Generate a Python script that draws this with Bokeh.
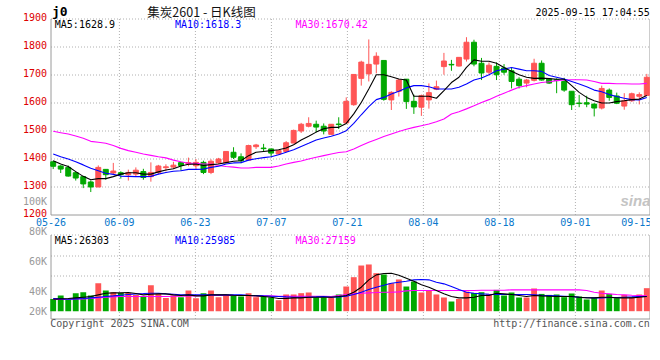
from bokeh.plotting import figure
from bokeh.models import Range1d, ColumnDataSource
from bokeh.core.properties import value
from bokeh.embed import file_html
from bokeh.resources import INLINE

# ---------------- data ----------------
dates = ["05-26", "06-09", "06-23", "07-07", "07-21", "08-04", "08-18", "09-01", "09-15"]
date_idx = [0, 9, 19, 29, 39, 49, 59, 69, 79]
price_ticks = [1900, 1800, 1700, 1600, 1500, 1400, 1300, 1200]
vol_tick_labels = ["100K", "80K", "60K", "40K", "20K"]

opens = [1390, 1375, 1370, 1351, 1337, 1318, 1300, 1363, 1350, 1351,
         1344, 1346, 1355, 1337, 1352, 1369, 1371, 1387, 1382, 1376,
         1388, 1352, 1386, 1387, 1424, 1408, 1396, 1444, 1439, 1436,
         1418, 1427, 1457, 1500, 1517, 1524, 1517, 1488, 1525, 1529,
         1594, 1688, 1704, 1739, 1752, 1611, 1642, 1685, 1606, 1585,
         1611, 1649, 1730, 1738, 1732, 1757, 1817, 1742, 1710, 1731,
         1725, 1715, 1685, 1671, 1681, 1742, 1686, 1683, 1677, 1642,
         1600, 1601, 1596, 1582, 1646, 1625, 1589, 1608, 1624, 1627]
highs = [1394, 1378, 1377, 1355, 1339, 1323, 1377, 1363, 1386, 1356,
         1362, 1370, 1365, 1388, 1379, 1381, 1390, 1390, 1405, 1400,
         1394, 1399, 1404, 1427, 1442, 1420, 1451, 1454, 1454, 1436,
         1432, 1464, 1505, 1529, 1549, 1537, 1527, 1525, 1549, 1620,
         1702, 1751, 1827, 1781, 1752, 1642, 1686, 1685, 1630, 1630,
         1670, 1680, 1779, 1754, 1763, 1835, 1826, 1761, 1745, 1745,
         1739, 1725, 1692, 1686, 1758, 1752, 1686, 1688, 1690, 1642,
         1629, 1626, 1599, 1662, 1652, 1637, 1635, 1637, 1638, 1704]
lows = [1364, 1350, 1337, 1323, 1296, 1282, 1300, 1326, 1346, 1330,
        1323, 1338, 1326, 1319, 1345, 1356, 1364, 1358, 1374, 1363,
        1346, 1346, 1382, 1386, 1400, 1385, 1394, 1436, 1426, 1408,
        1415, 1424, 1456, 1493, 1513, 1495, 1488, 1487, 1507, 1525,
        1590, 1662, 1677, 1706, 1608, 1575, 1623, 1579, 1561, 1554,
        1580, 1646, 1701, 1715, 1730, 1748, 1731, 1682, 1701, 1682,
        1701, 1652, 1652, 1656, 1677, 1680, 1668, 1635, 1640, 1575,
        1585, 1585, 1552, 1577, 1608, 1596, 1576, 1604, 1595, 1625]
closes = [1374, 1364, 1339, 1332, 1311, 1300, 1370, 1344, 1357, 1345,
          1352, 1360, 1334, 1352, 1375, 1372, 1378, 1377, 1387, 1388,
          1352, 1392, 1400, 1427, 1406, 1394, 1448, 1450, 1437, 1421,
          1430, 1458, 1502, 1524, 1527, 1514, 1500, 1524, 1523, 1606,
          1702, 1746, 1738, 1767, 1613, 1638, 1682, 1605, 1586, 1626,
          1637, 1658, 1750, 1736, 1763, 1817, 1739, 1707, 1735, 1701,
          1710, 1677, 1662, 1682, 1742, 1682, 1671, 1680, 1646, 1594,
          1598, 1596, 1582, 1652, 1620, 1599, 1608, 1633, 1630, 1692]

ma5 = [1394, 1382, 1373, 1355, 1338, 1326, 1330, 1330, 1337, 1346,
       1351, 1351, 1346, 1346, 1354, 1361, 1365, 1375, 1381, 1382,
       1377, 1380, 1382, 1387, 1392, 1394, 1412, 1424, 1427, 1430,
       1433, 1439, 1451, 1468, 1481, 1496, 1508, 1513, 1513, 1527,
       1561, 1602, 1650, 1701, 1701, 1694, 1686, 1682, 1624, 1624,
       1624, 1617, 1644, 1673, 1692, 1727, 1754, 1749, 1749, 1742,
       1727, 1713, 1701, 1692, 1688, 1689, 1687, 1685, 1685, 1662,
       1638, 1620, 1608, 1600, 1600, 1605, 1608, 1612, 1614, 1627]
ma10 = [1418, 1408, 1400, 1390, 1379, 1367, 1358, 1349, 1345, 1339,
        1338, 1337, 1337, 1338, 1346, 1352, 1356, 1358, 1363, 1363,
        1364, 1370, 1374, 1382, 1386, 1387, 1396, 1401, 1405, 1408,
        1415, 1424, 1433, 1445, 1456, 1468, 1475, 1481, 1489, 1501,
        1527, 1558, 1587, 1612, 1620, 1632, 1642, 1654, 1662, 1662,
        1658, 1650, 1650, 1650, 1656, 1668, 1682, 1689, 1701, 1715,
        1721, 1727, 1721, 1715, 1715, 1713, 1698, 1692, 1686, 1677,
        1668, 1658, 1646, 1640, 1630, 1623, 1617, 1612, 1611, 1620]
ma30 = [1499, 1494, 1489, 1482, 1474, 1463, 1460, 1456, 1448, 1438,
        1430, 1424, 1418, 1413, 1408, 1404, 1396, 1390, 1385, 1385,
        1382, 1382, 1377, 1373, 1371, 1368, 1368, 1370, 1370, 1370,
        1375, 1382, 1388, 1393, 1400, 1406, 1412, 1418, 1423, 1426,
        1436, 1448, 1460, 1470, 1480, 1489, 1498, 1506, 1513, 1519,
        1525, 1533, 1543, 1561, 1569, 1579, 1590, 1602, 1612, 1624,
        1635, 1646, 1656, 1662, 1668, 1673, 1676, 1680, 1682, 1683,
        1683, 1682, 1677, 1670, 1670, 1669, 1669, 1668, 1668, 1670]

volumes = [19900, 25400, 19000, 29200, 30800, 25400, 45400, 33500, 30800, 29600,
           29600, 26400, 23800, 42100, 28000, 21500, 25400, 22700, 33500, 21100,
           29200, 33500, 22700, 27100, 25400, 23800, 29200, 22700, 23800, 22200,
           17800, 27100, 27100, 29200, 30300, 22200, 22200, 22200, 27100, 40000,
           55100, 74000, 75700, 61600, 59500, 45400, 51400, 40000, 48100, 30300,
           33500, 27100, 22200, 15700, 19900, 31900, 29600, 30800, 28000, 34500,
           25400, 30300, 22200, 22200, 36800, 28000, 26400, 27100, 22700, 28700,
           23800, 19000, 21500, 33500, 28000, 21100, 26400, 22700, 27100, 37300]
vma5 = [19400, 20000, 20500, 21600, 22700, 23800, 26500, 29200, 29700, 29700,
        30200, 28600, 26500, 27500, 28100, 28100, 26500, 25400, 26500, 24800,
        24800, 26500, 26500, 26500, 25900, 25400, 25400, 24800, 23800, 22700,
        20500, 20500, 21600, 21600, 22700, 22700, 22700, 22700, 23800, 25400,
        30800, 38900, 50800, 58900, 61000, 61600, 58300, 53500, 48600, 42700,
        38900, 33500, 28100, 23800, 21600, 21600, 22700, 25400, 25400, 29200,
        28100, 27000, 25400, 23800, 25400, 24800, 24300, 23800, 23800, 23800,
        22700, 21600, 21600, 22700, 22700, 21600, 21600, 21600, 22700, 23800]
vma10 = [20500, 20000, 19400, 20000, 20500, 21600, 22700, 23800, 24800, 25900,
         27000, 28100, 28600, 29200, 29200, 28100, 27500, 26500, 26500, 26500,
         26500, 26500, 26500, 26500, 26500, 26500, 25900, 25400, 24800, 24300,
         23800, 23200, 22700, 22700, 22700, 23200, 23800, 22700, 23200, 24300,
         27000, 30800, 35100, 38900, 42100, 45400, 47000, 48600, 50800, 51300,
         50800, 47000, 44300, 40000, 35100, 30800, 29200, 28100, 27500, 27000,
         27000, 27000, 27000, 27000, 26500, 25900, 25400, 24800, 24300, 23800,
         22700, 22100, 21600, 21600, 22100, 22100, 22700, 23200, 23800, 23800]
vma30 = [18900, 18900, 19400, 20000, 20000, 20500, 21600, 22700, 23200, 23800,
         23800, 23800, 23800, 23800, 23800, 23800, 24300, 24300, 24800, 24800,
         25400, 25400, 25400, 25400, 25400, 25400, 25400, 24800, 24800, 24800,
         24300, 24300, 24300, 24300, 24300, 24300, 24300, 23800, 25400, 27000,
         28100, 29200, 29700, 30200, 30800, 30800, 31300, 32900, 33500, 33500,
         33500, 33500, 33500, 33500, 33500, 33500, 33500, 34000, 34000, 34000,
         34000, 34600, 34600, 34600, 34600, 34600, 34600, 34600, 34600, 34600,
         34600, 33500, 30800, 29200, 28100, 27000, 26500, 25900, 25400, 24800]

ma_names = ["MA5", "MA10", "MA30"]
price_ma_last = ["1628.9", "1618.3", "1670.42"]
vol_ma_last = ["26303", "25985", "27159"]
title_text = "集炭2601 - 日K线图"
symbol_text = "j0"
stamp_text = "2025-09-15 17:04:55"

# ---------------- layout (pixel geometry of the original picture) ----------------
W, H = 650, 344
OFF_X, OFF_Y = 0, 0                 # reference pixel -> canvas pixel
BAR_X0, BAR_DX = 52.7, 7.514        # first bar centre, bar pitch
DATE_X0, DATE_DX = 50.5, 7.6        # date grid origin and pitch
P_REF, P_Y0, P_PX = 1900, 18.5, 0.28
V_Y0, V_PX = 310.7, 1 / 1620.0


def bx(px):
    return (px - BAR_X0) / BAR_DX


def dx(px):
    return (px - DATE_X0) / DATE_DX


def py(y):
    return P_REF - (y - P_Y0) / P_PX


def vy(y):
    return (V_Y0 - y) / V_PX


RED, GREEN = "#ff5555", "#00a800"
GRID, EDGE = "#b0b0b0", "#9a9a9a"
MONO = value("DejaVu Sans Mono")

p = figure(width=W, height=H, output_backend="svg", toolbar_location=None,
           x_range=Range1d(bx(OFF_X), bx(OFF_X + W)),
           y_range=Range1d(py(OFF_Y + H), py(OFF_Y)),
           x_axis_type=None, y_axis_type=None, min_border=0,
           outline_line_color=None, background_fill_color="white",
           border_fill_color="white")
p.extra_y_ranges = {"vol": Range1d(vy(OFF_Y + H), vy(OFF_Y))}
p.extra_x_ranges = {"date": Range1d(dx(OFF_X), dx(OFF_X + W))}

xl, xr = bx(50.5), bx(649.5)
n = len(price_ticks)

# ---- price panel frame & grid ----
p.segment(x0=[xl] * (n - 1), x1=[xr] * (n - 1), y0=price_ticks[:-1], y1=price_ticks[:-1],
          line_color=GRID, line_dash="1 2", line_width=1)
p.segment(x0=date_idx[1:-1], x1=date_idx[1:-1], y0=[price_ticks[-1]] * 7, y1=[price_ticks[0]] * 7,
          x_range_name="date", line_color=GRID, line_dash="1 2", line_width=1)
p.segment(x0=[xl, xl, xr], x1=[xr, xl, xr],
          y0=[price_ticks[-1], price_ticks[-1], price_ticks[-1]],
          y1=[price_ticks[-1], price_ticks[0], price_ticks[0]], line_color=EDGE, line_width=1)

# ---- volume panel frame & grid ----
v_top, v_bot = vy(234.5), vy(318.5)
v_grid = [vy(255.5), vy(275.5)]
p.segment(x0=[xl] * 3, x1=[xr] * 3, y0=[v_top] + v_grid, y1=[v_top] + v_grid,
          y_range_name="vol", line_color=GRID, line_dash="1 2", line_width=1)
p.segment(x0=date_idx[1:-1], x1=date_idx[1:-1], y0=[v_bot] * 7, y1=[v_top] * 7,
          x_range_name="date", y_range_name="vol", line_color=GRID, line_dash="1 2", line_width=1)
p.segment(x0=[xl, xl, xr], x1=[xr, xl, xr], y0=[v_bot, v_bot, v_bot], y1=[v_bot, v_top, v_top],
          y_range_name="vol", line_color=EDGE, line_width=1)

# ---- candles ----
idx = list(range(len(closes)))
colors = [RED if c >= o else GREEN for o, c in zip(opens, closes)]
src = ColumnDataSource(dict(
    x=idx, o=opens, h=highs, l=lows, c=closes,
    top=[max(o, c) for o, c in zip(opens, closes)],
    bot=[min(o, c) for o, c in zip(opens, closes)],
    v=volumes, color=colors))
p.segment(x0="x", y0="l", x1="x", y1="h", line_color="color", line_width=1, source=src)
p.vbar(x="x", width=0.66, top="top", bottom="bot", fill_color="color",
       line_color="color", line_width=1, source=src)
p.vbar(x="x", width=0.78, top="v", bottom=0, fill_color="color", line_color=None,
       y_range_name="vol", source=src)

# ---- moving averages ----
for arr, col in ((ma30, "#ff00ff"), (ma10, "#0000ff"), (ma5, "#000000")):
    p.line(idx, arr, line_color=col, line_width=1.1)
for arr, col in ((vma30, "#ff00ff"), (vma10, "#0000ff"), (vma5, "#000000")):
    p.line(idx, arr, line_color=col, line_width=1.1, y_range_name="vol")


# ---- texts ----
def txt(x, y, text, color, size="10px", align="left", font=MONO, style="normal", **kw):
    p.text(x=x, y=y, text=text, text_color=color, text_font=font, text_font_size=size,
           text_align=align, text_baseline="middle", text_font_style=style, **kw)


# price labels
txt([bx(46.5)] * n, price_ticks, [str(t) for t in price_ticks], "#dd0000", align="right", y_offset=-2)
# volume labels (drawn where the original prints them)
VOL_LABEL_Y = [200.7, 230.7, 260.7, 290.7, 310.7]
txt([bx(46.5)] * len(vol_tick_labels), [vy(y) for y in VOL_LABEL_Y], vol_tick_labels, "#999999",
    align="right", y_range_name="vol")
# date labels
txt(date_idx[:-1], [py(221.5)] * (len(dates) - 1), dates[:-1], "#0a78cc", align="center",
    x_range_name="date")
txt([date_idx[-1]], [py(221.5)], dates[-1:], "#0a78cc", align="right", x_range_name="date")

# MA legends
ma_cols = ["#000000", "#0000ff", "#ff00ff"]
ma_x = [54.3, 174.5, 295.0]
for name, val, col, x in zip(ma_names, price_ma_last, ma_cols, ma_x):
    txt([bx(x)], [py(23.5)], [f"{name}:{val}"], col)
for name, val, col, x in zip(ma_names, vol_ma_last, ma_cols, ma_x):
    txt([bx(x)], [vy(239.5)], [f"{name}:{val}"], col, y_range_name="vol")

# header
txt([bx(51.5)], [py(11.0)], [symbol_text], "#000000", size="13px", style="bold")
txt([bx(201.0)], [py(11.0)], [title_text], "#111111", size="12.5px", align="center",
    font=value("Noto Sans CJK SC"))
txt([bx(649.3)], [py(11.7)], [stamp_text], "#000000", align="right")

# footer
txt([bx(49.8)], [py(322.8)], ["Copyright 2025 SINA.COM"], "#555555")
txt([bx(649.3)], [py(323.0)], ["http://finance.sina.com.cn"], "#555555", align="right")

# watermark
txt([bx(620.0)], [py(200.0)], ["sina"], "#c4c4c4", size="15px", style="bold italic",
    font=value("Liberation Sans"))

open("out.html", "w").write(file_html(p, INLINE))
